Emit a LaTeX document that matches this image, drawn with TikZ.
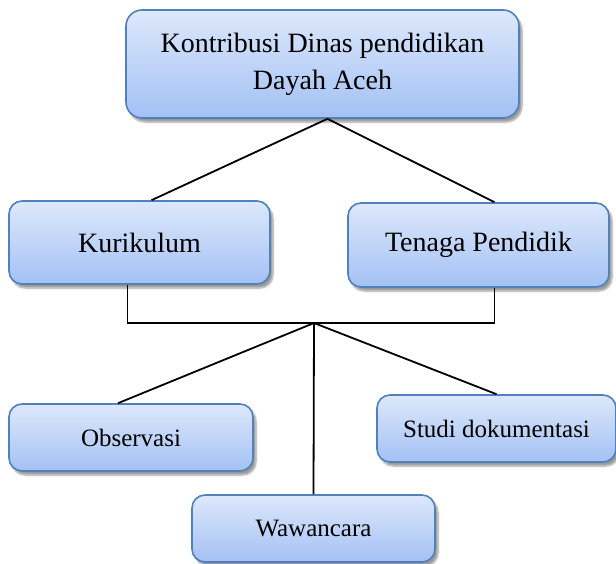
\documentclass[tikz,border=0pt]{standalone}
\usepackage{fontspec}
\setmainfont{Liberation Serif}
\usepackage{xcolor}
\usepackage{tikz}
\usetikzlibrary{positioning, shadows, shadows.blur}

\definecolor{boxtop}{HTML}{DDE8FB}
\definecolor{boxbottom}{HTML}{A3C1F4}
\definecolor{boxline}{HTML}{4F81BD}

\begin{document}
\begin{tikzpicture}[x=1pt, y=-1pt,
    box/.style={draw=boxline, line width=1.6pt, rounded corners=13pt,
      top color=boxtop, bottom color=boxbottom, align=center,
      blur shadow={shadow xshift=3pt, shadow yshift=-4pt, shadow blur steps=6, shadow opacity=40}},
    link/.style={line width=1.8pt, black}]
    \useasboundingbox (0,0) rectangle (616,563);
    \node[box, minimum width=393pt, minimum height=108pt, rounded corners=16pt,
      font=\fontsize{28}{37}\selectfont] (topic) at (322.5,64) {Kontribusi Dinas pendidikan\\Dayah Aceh};
    \node[box, minimum width=261pt, minimum height=83pt, font=\fontsize{28}{34}\selectfont] (kur) at (139.5,242.5) {Kurikulum};
    \node[box, minimum width=261pt, minimum height=84pt, font=\fontsize{28}{34}\selectfont] (ten) at (478.5,245) {Tenaga Pendidik};
    \node[box, minimum width=244pt, minimum height=67pt, font=\fontsize{25}{30}\selectfont] (obs) at (131,437.5) {Observasi};
    \node[box, minimum width=239pt, minimum height=67pt, font=\fontsize{25}{30}\selectfont] (stu) at (496.5,428.5) {Studi dokumentasi};
    \node[box, minimum width=243pt, minimum height=67pt, font=\fontsize{25}{30}\selectfont] (waw) at (313.5,528.5) {Wawancara};
    \coordinate (hub) at (314,323);
    \draw[link] ([xshift=12pt]kur.north) -- ([xshift=5pt]topic.south) -- ([xshift=16pt]ten.north);
    \draw[link] ([xshift=-12pt]kur.south) |- (hub) -| ([xshift=16pt]ten.south);
    \draw[link] ([xshift=-13pt]obs.north) -- (hub) -- (stu.north);
    \draw[link] (hub) -- (waw.north);
  \end{tikzpicture}
\end{document}
